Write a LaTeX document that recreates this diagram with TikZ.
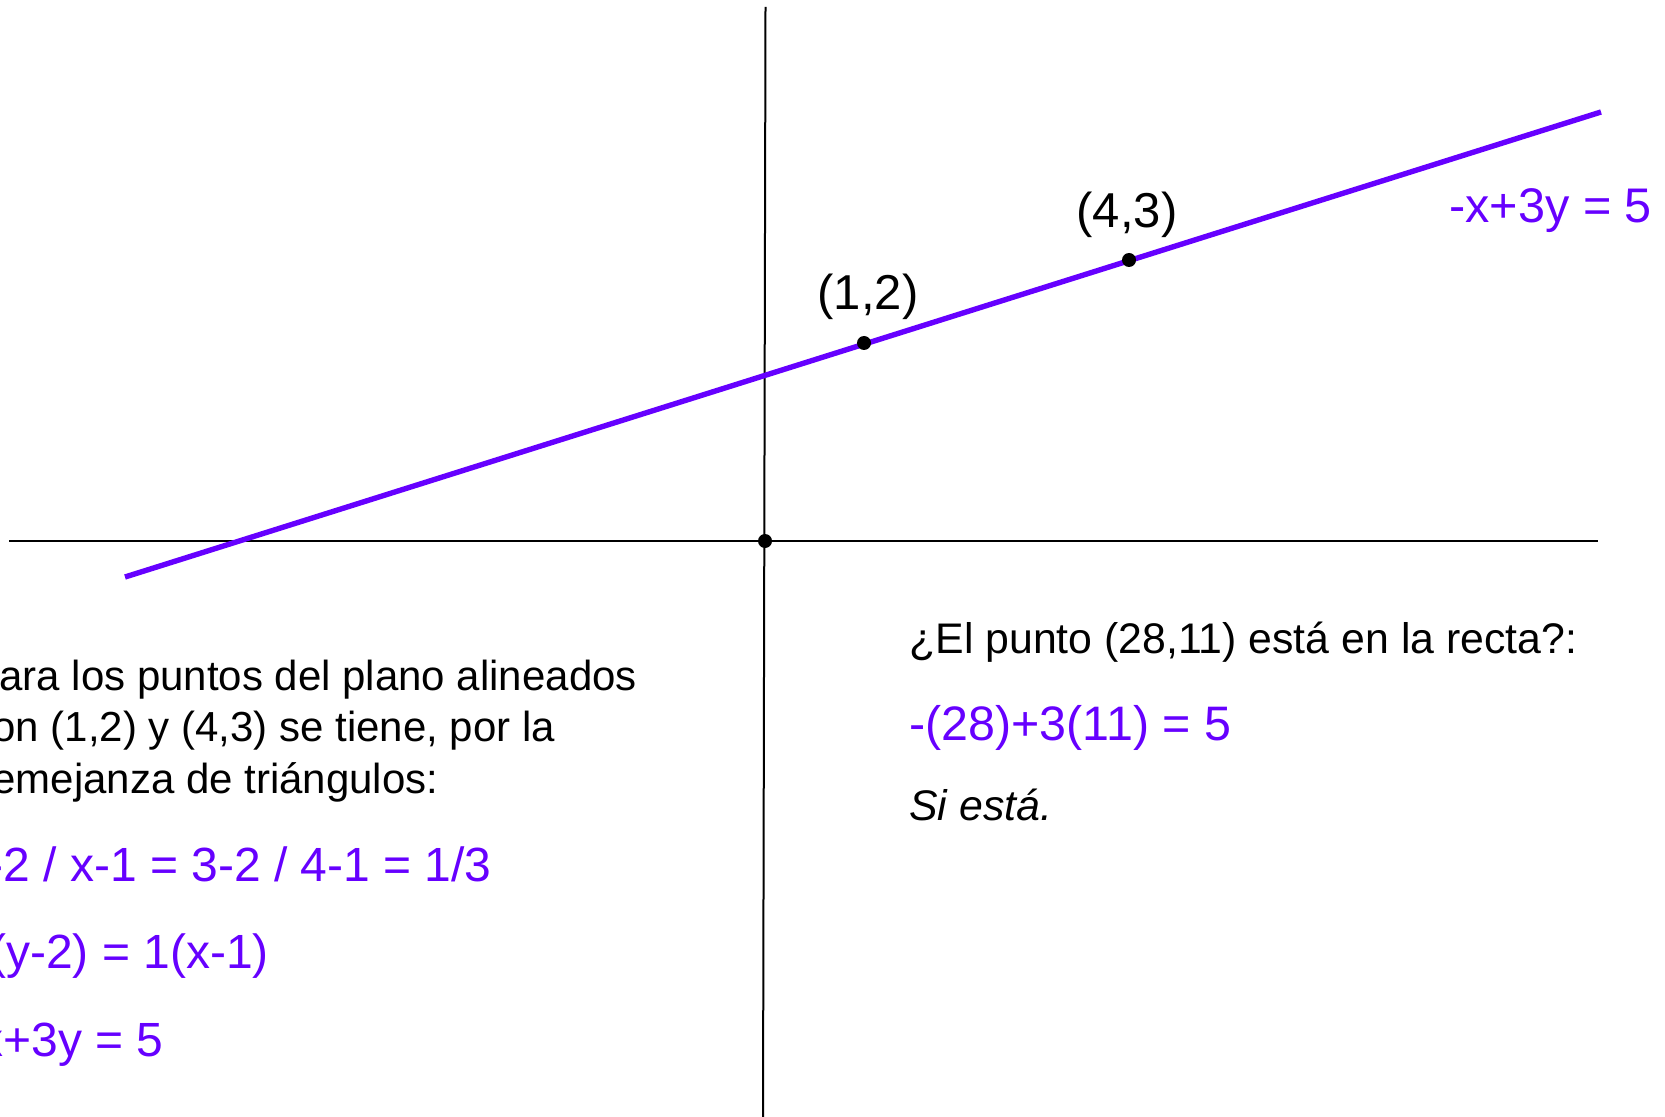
\documentclass[tikz,border=0pt]{standalone}
\usepackage{fontspec}
\setmainfont{Liberation Sans}
\definecolor{lila}{RGB}{102,0,255}
\begin{document}
\begin{tikzpicture}[x=0.5pt,y=-0.5pt,
  axis/.style={line width=1pt,black},
  recta/.style={line width=2.7pt,lila},
  dot/.style={circle,fill=black,inner sep=0pt,minimum size=7pt},
  lbl/.style={inner sep=0pt,anchor=base,font=\fontsize{24.5pt}{28pt}\selectfont},
  body/.style={inner sep=0pt,anchor=base west,font=\fontsize{21pt}{25pt}\selectfont},
  eq/.style={inner sep=0pt,anchor=base west,text=lila,font=\fontsize{24pt}{28pt}\selectfont}]
\useasboundingbox (0,0) rectangle (1665,1117);
\clip (0,0) rectangle (1665,1117);
% axes
\coordinate (vtop) at (765.5,7);
\coordinate (vbot) at (763,1117);
\coordinate (hleft) at (9,541);
\coordinate (hright) at (1598,541);
\draw[axis] (vtop) -- (vbot);
\draw[axis] (hleft) -- (hright);
% line
\coordinate (A) at (125,577);
\coordinate (B) at (1601,112);
\draw[recta] (A) -- (B);
% points
\node[dot] (O) at (765,541) {};
\node[dot] (P12) at (864,343) {};
\node[dot] (P43) at (1129,260) {};
\node[lbl] (L12) at (868,310) {(1,2)};
\node[lbl] (L43) at (1127,228) {(4,3)};
\node[eq,font=\fontsize{24.3pt}{28pt}\selectfont] (Leq) at (1449,223) {-x+3y = 5};
% left text
\node[body] (t1) at (-29,690) {Para los puntos del plano alineados};
\node[body] (t2) at (-29,741) {con (1,2) y (4,3) se tiene, por la};
\node[body] (t3) at (-29,793) {semejanza de triángulos:};
\node[eq] (e1) at (-37,881) {y-2 / x-1 = 3-2 / 4-1 = 1/3};
\node[eq] (e2) at (-37,968) {3(y-2) = 1(x-1)};
\node[eq] (e3) at (-37,1056) {-x+3y = 5};
% right text
\node[body,font=\fontsize{21.4pt}{25pt}\selectfont] (r1) at (909,653) {¿El punto (28,11) está en la recta?:};
\node[eq,font=\fontsize{24.2pt}{28pt}\selectfont] (r2) at (909,740) {-(28)+3(11) = 5};
\node[body,font=\fontsize{21.4pt}{25pt}\selectfont\itshape] (r3) at (909,820) {Si está.};
\end{tikzpicture}
\end{document}
